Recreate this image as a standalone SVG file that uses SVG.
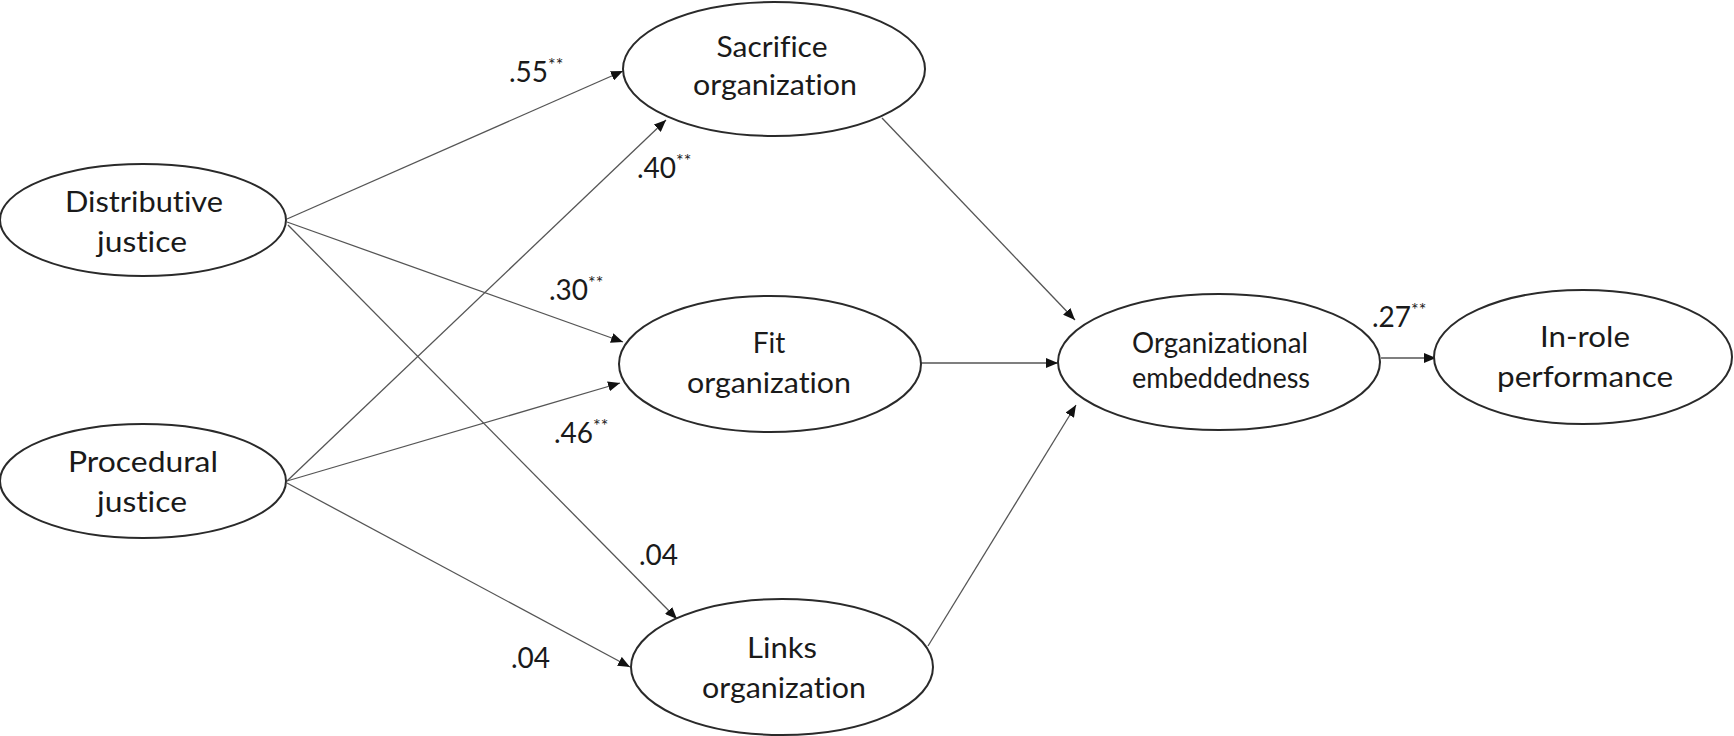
<svg xmlns="http://www.w3.org/2000/svg" width="1734" height="736" viewBox="0 0 1734 736">
<style>
.node ellipse{fill:#fff;stroke:#2a2a2a;stroke-width:2}
.node text{font-family:Lato,"Liberation Sans",sans-serif;font-size:28px;fill:#1a1a1a;text-anchor:middle;font-variant-ligatures:none}
.conn line{stroke:#555;stroke-width:1.3;fill:none}
.lbl{font-family:Lato,"Liberation Sans",sans-serif;font-size:28px;fill:#1a1a1a;font-variant-ligatures:none}
.sup{font-size:18px;fill:#1a1a1a}
</style>
<defs>
<marker id="ah" markerUnits="userSpaceOnUse" markerWidth="14" markerHeight="10" refX="12" refY="5" orient="auto">
<path d="M0,0 L12,5 L0,10 Z" fill="#111"/>
</marker>
</defs>
<rect width="1734" height="736" fill="#fff"/>
<g class="conn">
<line x1="287" y1="219" x2="623" y2="71" marker-end="url(#ah)"/>
<line x1="287" y1="222" x2="623" y2="342" marker-end="url(#ah)"/>
<line x1="288" y1="225" x2="677" y2="619" marker-end="url(#ah)"/>
<line x1="287" y1="481" x2="666" y2="120" marker-end="url(#ah)"/>
<line x1="287" y1="481" x2="620" y2="383" marker-end="url(#ah)"/>
<line x1="287" y1="483" x2="630" y2="667" marker-end="url(#ah)"/>
<line x1="882" y1="118" x2="1075" y2="320" marker-end="url(#ah)"/>
<line x1="921" y1="363" x2="1058" y2="363" marker-end="url(#ah)"/>
<line x1="928" y1="646" x2="1076" y2="405" marker-end="url(#ah)"/>
<line x1="1381" y1="358" x2="1436" y2="358" marker-end="url(#ah)"/>
</g>
<g id="distributive" class="node">
<ellipse cx="143" cy="220" rx="143" ry="56"/>
<text x="144" y="212" textLength="158" lengthAdjust="spacingAndGlyphs">Distributive</text>
<text x="142" y="252" textLength="90" lengthAdjust="spacingAndGlyphs">justice</text>
</g>
<g id="procedural" class="node">
<ellipse cx="143" cy="481" rx="143" ry="57"/>
<text x="143" y="472" textLength="150" lengthAdjust="spacingAndGlyphs">Procedural</text>
<text x="142" y="512" textLength="90" lengthAdjust="spacingAndGlyphs">justice</text>
</g>
<g id="sacrifice" class="node">
<ellipse cx="774" cy="69" rx="151" ry="67"/>
<text x="772" y="57" textLength="111" lengthAdjust="spacingAndGlyphs">Sacrifice</text>
<text x="775" y="95" textLength="164" lengthAdjust="spacingAndGlyphs">organization</text>
</g>
<g id="fit" class="node">
<ellipse cx="770" cy="364" rx="151" ry="68"/>
<text x="769" y="353">Fit</text>
<text x="769" y="393" textLength="164" lengthAdjust="spacingAndGlyphs">organization</text>
</g>
<g id="links" class="node">
<ellipse cx="782" cy="667" rx="151" ry="68"/>
<text x="782" y="658" textLength="70" lengthAdjust="spacingAndGlyphs">Links</text>
<text x="784" y="698" textLength="164" lengthAdjust="spacingAndGlyphs">organization</text>
</g>
<g id="embeddedness" class="node">
<ellipse cx="1219" cy="362" rx="161" ry="68"/>
<text x="1220" y="353" textLength="176" lengthAdjust="spacingAndGlyphs">Organizational</text>
<text x="1221" y="388" textLength="178" lengthAdjust="spacingAndGlyphs">embeddedness</text>
</g>
<g id="inrole" class="node">
<ellipse cx="1583" cy="357" rx="149" ry="67"/>
<text x="1585" y="347" textLength="90" lengthAdjust="spacingAndGlyphs">In-role</text>
<text x="1585" y="387" textLength="176" lengthAdjust="spacingAndGlyphs">performance</text>
</g>
<g id="labels">
<text class="lbl" x="509" y="82">.55<tspan class="sup" dy="-11">**</tspan></text>
<text class="lbl" x="637" y="178">.40<tspan class="sup" dy="-11">**</tspan></text>
<text class="lbl" x="549" y="300">.30<tspan class="sup" dy="-11">**</tspan></text>
<text class="lbl" x="554" y="443">.46<tspan class="sup" dy="-11">**</tspan></text>
<text class="lbl" x="639" y="565">.04</text>
<text class="lbl" x="511" y="668">.04</text>
<text class="lbl" x="1372" y="327">.27<tspan class="sup" dy="-11">**</tspan></text>
</g>
</svg>
